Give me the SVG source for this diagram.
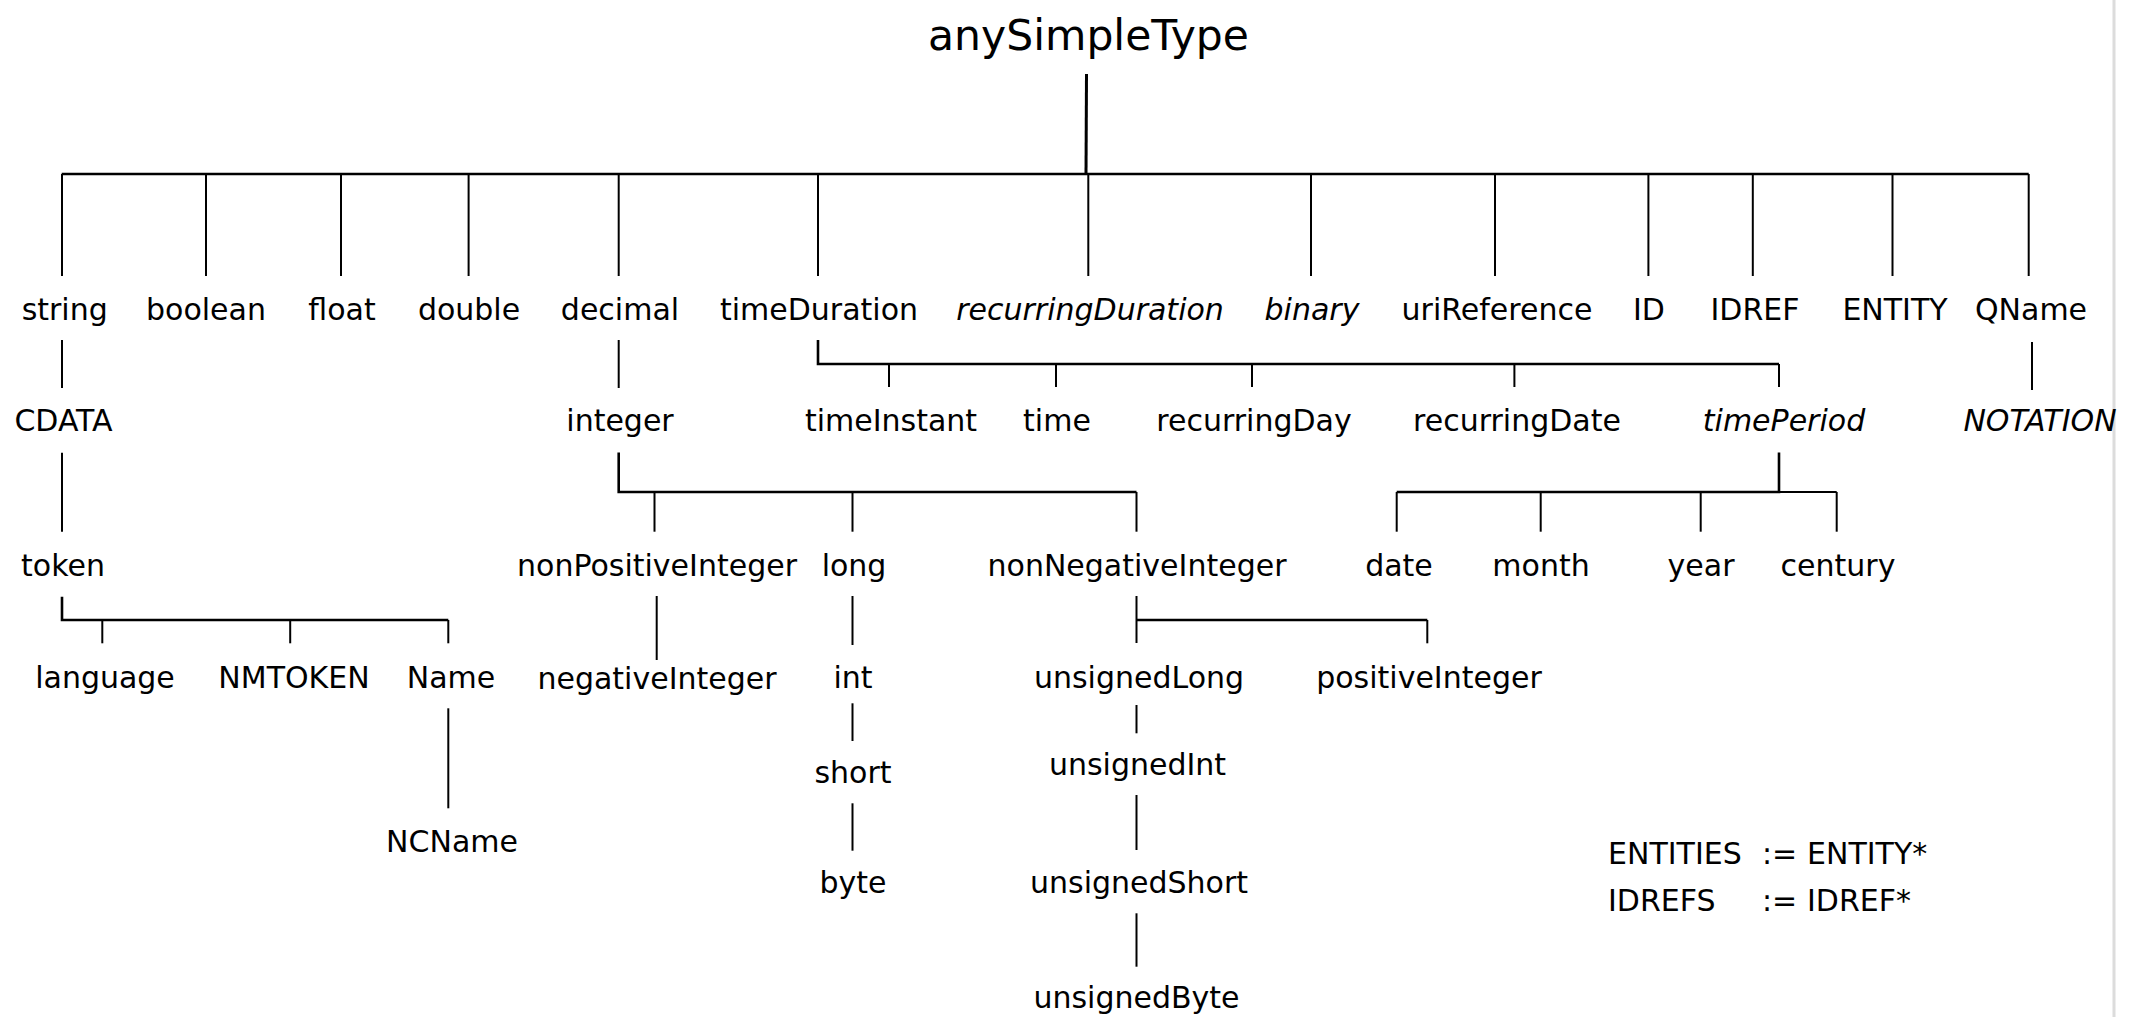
<svg xmlns="http://www.w3.org/2000/svg" width="2136" height="1017" viewBox="0 0 2136 1017">
<style>
text{font-family:"DejaVu Sans","Liberation Sans",sans-serif;font-size:30px;fill:#000;text-anchor:middle}
.root{font-size:42.5px}
.it{font-style:italic}
.leg{text-anchor:start}
#connectors line,#connectors path{stroke:#000;fill:none;stroke-width:2}
#connectors .bus{stroke-width:2.6}
#connectors .trunk{stroke-width:3}
</style>
<rect width="2136" height="1017" fill="#fff"/>
<line x1="2114" y1="0" x2="2114" y2="1017" stroke="#dcdcdc" stroke-width="3"/>
<g id="connectors">
<line class="trunk" x1="1086.5" y1="74" x2="1086" y2="174"/>
<line class="bus" x1="61.7" y1="174" x2="2028.7" y2="174"/>
<line x1="62" y1="174" x2="62" y2="276"/>
<line x1="206" y1="174" x2="206" y2="276"/>
<line x1="341" y1="174" x2="341" y2="276"/>
<line x1="468.6" y1="174" x2="468.6" y2="276"/>
<line x1="618.7" y1="174" x2="618.7" y2="276"/>
<line x1="818" y1="174" x2="818" y2="276"/>
<line x1="1088.3" y1="174" x2="1088.3" y2="276"/>
<line x1="1311" y1="174" x2="1311" y2="276"/>
<line x1="1495" y1="174" x2="1495" y2="276"/>
<line x1="1648.4" y1="174" x2="1648.4" y2="276"/>
<line x1="1752.8" y1="174" x2="1752.8" y2="276"/>
<line x1="1892.5" y1="174" x2="1892.5" y2="276"/>
<line x1="2028.7" y1="174" x2="2028.7" y2="276"/>
<line x1="62" y1="340" x2="62" y2="388"/>
<line x1="618.7" y1="340" x2="618.7" y2="388"/>
<path class="bus" d="M818,340 V364 H1779"/>
<line x1="889" y1="364" x2="889" y2="387"/>
<line x1="1056" y1="364" x2="1056" y2="387"/>
<line x1="1252" y1="364" x2="1252" y2="387"/>
<line x1="1514.4" y1="364" x2="1514.4" y2="387"/>
<line x1="1779" y1="364" x2="1779" y2="387"/>
<line x1="2032" y1="342" x2="2032" y2="390"/>
<line x1="62" y1="452.7" x2="62" y2="531.7"/>
<path class="bus" d="M618.7,452.5 V492 H1136.5"/>
<line x1="654.5" y1="492" x2="654.5" y2="531.7"/>
<line x1="852.5" y1="492" x2="852.5" y2="531.7"/>
<line x1="1136.5" y1="492" x2="1136.5" y2="531.7"/>
<path class="bus" d="M1779,452.5 V492 H1396.7"/>
<line x1="1779" y1="492" x2="1836.7" y2="492"/>
<line x1="1396.7" y1="492" x2="1396.7" y2="531.7"/>
<line x1="1540.7" y1="492" x2="1540.7" y2="531.7"/>
<line x1="1700.7" y1="492" x2="1700.7" y2="531.7"/>
<line x1="1836.7" y1="492" x2="1836.7" y2="531.7"/>
<path class="bus" d="M62,596.7 V620 H448.3"/>
<line x1="102.3" y1="620" x2="102.3" y2="643.3"/>
<line x1="290.2" y1="620" x2="290.2" y2="643.3"/>
<line x1="448.3" y1="620" x2="448.3" y2="643.3"/>
<line x1="656.7" y1="596" x2="656.7" y2="660"/>
<line x1="852.5" y1="596" x2="852.5" y2="645"/>
<line x1="1136.5" y1="596" x2="1136.5" y2="643"/>
<line class="bus" x1="1136.5" y1="620" x2="1427.3" y2="620"/>
<line x1="1427.3" y1="620" x2="1427.3" y2="643.3"/>
<line x1="448.3" y1="708.3" x2="448.3" y2="808.3"/>
<line x1="852.5" y1="703.3" x2="852.5" y2="741"/>
<line x1="852.5" y1="803.3" x2="852.5" y2="850.7"/>
<line x1="1136.5" y1="705" x2="1136.5" y2="733.3"/>
<line x1="1136.5" y1="795" x2="1136.5" y2="850"/>
<line x1="1136.5" y1="913.3" x2="1136.5" y2="966.7"/>
</g>
<g id="anySimpleType"><text class="root" x="1088.5" y="50">anySimpleType</text></g>
<g id="string"><text x="64.7" y="320">string</text></g>
<g id="boolean"><text x="206" y="320">boolean</text></g>
<g id="float"><text x="342" y="320">float</text></g>
<g id="double"><text x="469" y="320">double</text></g>
<g id="decimal"><text x="620" y="320">decimal</text></g>
<g id="timeDuration"><text x="819" y="320">timeDuration</text></g>
<g id="recurringDuration"><text class="it" x="1090" y="320">recurringDuration</text></g>
<g id="binary"><text class="it" x="1312" y="320">binary</text></g>
<g id="uriReference"><text x="1497" y="320">uriReference</text></g>
<g id="ID"><text x="1649" y="320">ID</text></g>
<g id="IDREF"><text x="1755" y="320">IDREF</text></g>
<g id="ENTITY"><text x="1895" y="320">ENTITY</text></g>
<g id="QName"><text x="2031" y="320">QName</text></g>
<g id="CDATA"><text x="63.5" y="431">CDATA</text></g>
<g id="integer"><text x="620" y="431">integer</text></g>
<g id="timeInstant"><text x="891" y="431">timeInstant</text></g>
<g id="time"><text x="1057" y="431">time</text></g>
<g id="recurringDay"><text x="1254" y="431">recurringDay</text></g>
<g id="recurringDate"><text x="1517" y="431">recurringDate</text></g>
<g id="timePeriod"><text class="it" x="1784" y="431">timePeriod</text></g>
<g id="NOTATION"><text class="it" x="2040" y="431">NOTATION</text></g>
<g id="token"><text x="63" y="576">token</text></g>
<g id="nonPositiveInteger"><text x="657" y="576">nonPositiveInteger</text></g>
<g id="long"><text x="854" y="576">long</text></g>
<g id="nonNegativeInteger"><text x="1137" y="576">nonNegativeInteger</text></g>
<g id="date"><text x="1399" y="576">date</text></g>
<g id="month"><text x="1541" y="576">month</text></g>
<g id="year"><text x="1701" y="576">year</text></g>
<g id="century"><text x="1838" y="576">century</text></g>
<g id="language"><text x="105" y="688">language</text></g>
<g id="NMTOKEN"><text x="294" y="688">NMTOKEN</text></g>
<g id="Name"><text x="451" y="688">Name</text></g>
<g id="negativeInteger"><text x="657" y="689">negativeInteger</text></g>
<g id="int"><text x="853" y="688">int</text></g>
<g id="unsignedLong"><text x="1139" y="688">unsignedLong</text></g>
<g id="positiveInteger"><text x="1429" y="688">positiveInteger</text></g>
<g id="NCName"><text x="452" y="852">NCName</text></g>
<g id="short"><text x="853" y="783">short</text></g>
<g id="byte"><text x="853" y="893">byte</text></g>
<g id="unsignedInt"><text x="1137.5" y="775">unsignedInt</text></g>
<g id="unsignedShort"><text x="1139" y="893">unsignedShort</text></g>
<g id="unsignedByte"><text x="1136.5" y="1008">unsignedByte</text></g>
<g id="legend">
<text class="leg" y="864"><tspan x="1608">ENTITIES</tspan><tspan x="1762">:=</tspan><tspan x="1807">ENTITY*</tspan></text>
<text class="leg" y="911"><tspan x="1608">IDREFS</tspan><tspan x="1762">:=</tspan><tspan x="1807">IDREF*</tspan></text>
</g>
</svg>
